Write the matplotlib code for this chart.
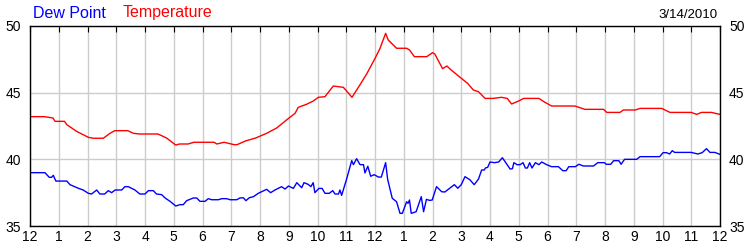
import matplotlib
matplotlib.use("Agg")
import matplotlib.pyplot as plt

# hours since midnight and readings (F)
temp_h = [0, 0.5, 0.8, 0.87, 1.2, 1.28, 1.62, 2.03, 2.2, 2.55, 2.78, 2.95, 3.4, 3.6, 3.8, 4.45,
          4.75, 5.07, 5.2, 5.5, 5.7, 6.4, 6.5, 6.75, 7.1, 7.2, 7.5, 7.85, 8.23, 8.58, 8.95, 9.22,
          9.33, 9.62, 9.85, 10.03, 10.26, 10.55, 10.9, 11.2, 11.48, 11.71, 12.0, 12.17, 12.37,
          12.46, 12.75, 13.1, 13.2, 13.37, 13.8, 14.0, 14.08, 14.35, 14.5, 14.65, 14.96, 15.22,
          15.42, 15.6, 15.83, 16.1, 16.4, 16.6, 16.75, 17.0, 17.17, 17.7, 17.87, 18.14, 18.95,
          19.3, 19.95, 20.06, 20.52, 20.64, 21.05, 21.22, 21.97, 22.26, 23.0, 23.19, 23.36,
          23.7, 24.0]
temp_v = [43.2, 43.2, 43.1, 42.85, 42.85, 42.6, 42.1, 41.65, 41.58, 41.58, 41.95, 42.15, 42.15,
          41.95, 41.9, 41.9, 41.6, 41.07, 41.15, 41.15, 41.28, 41.28, 41.15, 41.28, 41.1, 41.1,
          41.38, 41.6, 41.95, 42.35, 43.0, 43.45, 43.9, 44.13, 44.37, 44.65, 44.7, 45.5, 45.4,
          44.65, 45.6, 46.4, 47.57, 48.3, 49.45, 48.95, 48.33, 48.33, 48.2, 47.7, 47.7, 48.0,
          47.9, 46.8, 47.0, 46.7, 46.15, 45.7, 45.2, 45.07, 44.57, 44.57, 44.65, 44.57, 44.15,
          44.38, 44.57, 44.57, 44.33, 44.0, 44.0, 43.75, 43.75, 43.52, 43.52, 43.7, 43.7, 43.82,
          43.82, 43.52, 43.52, 43.37, 43.52, 43.52, 43.37]

dew_h = [0, 0.52, 0.67, 0.75, 0.81, 0.9, 1.28, 1.39, 1.68, 1.85, 2.03, 2.14, 2.32, 2.43, 2.6,
         2.72, 2.84, 2.96, 3.19, 3.3, 3.42, 3.65, 3.82, 4.0, 4.12, 4.29, 4.4, 4.58, 4.7, 4.87,
         5.07, 5.22, 5.33, 5.45, 5.68, 5.8, 5.91, 6.09, 6.2, 6.32, 6.55, 6.67, 6.84, 6.96, 7.19,
         7.3, 7.42, 7.51, 7.63, 7.77, 7.94, 8.23, 8.37, 8.52, 8.75, 8.87, 8.99, 9.16, 9.28, 9.45,
         9.53, 9.68, 9.77, 9.85, 9.91, 10.05, 10.16, 10.26, 10.41, 10.53, 10.61, 10.73, 10.78,
         10.84, 11.01, 11.19, 11.25, 11.36, 11.48, 11.6, 11.65, 11.75, 11.85, 11.97, 12.12,
         12.22, 12.37, 12.44, 12.6, 12.75, 12.87, 12.95, 13.1, 13.15, 13.2, 13.26, 13.43, 13.61,
         13.69, 13.79, 13.9, 13.99, 14.14, 14.32, 14.43, 14.76, 14.88, 15.0, 15.13, 15.3, 15.45,
         15.6, 15.71, 15.8, 15.84, 15.92, 16.0, 16.15, 16.3, 16.43, 16.54, 16.7, 16.78, 16.83,
         16.94, 17.05, 17.15, 17.23, 17.3, 17.38, 17.46, 17.58, 17.7, 17.8, 17.97, 18.14, 18.38,
         18.53, 18.65, 18.74, 18.97, 19.09, 19.25, 19.6, 19.75, 19.98, 20.04, 20.2, 20.3, 20.48,
         20.56, 20.68, 21.1, 21.22, 21.9, 22.02, 22.14, 22.25, 22.34, 22.42, 23.0, 23.23, 23.38,
         23.53, 23.65, 23.82, 23.99]
dew_v = [39.0, 39.0, 38.65, 38.65, 38.8, 38.37, 38.37, 38.1, 37.83, 37.7, 37.45, 37.4, 37.7,
         37.4, 37.4, 37.65, 37.5, 37.7, 37.7, 37.95, 37.95, 37.7, 37.4, 37.4, 37.65, 37.65, 37.4,
         37.35, 37.1, 36.85, 36.5, 36.6, 36.6, 36.9, 37.1, 37.1, 36.85, 36.85, 37.05, 36.97,
         36.97, 37.05, 37.05, 36.97, 36.97, 37.1, 37.12, 36.9, 37.12, 37.2, 37.45, 37.75, 37.5,
         37.7, 37.95, 37.77, 38.0, 37.82, 38.25, 37.87, 38.25, 38.12, 37.95, 38.25, 37.5, 37.82,
         37.82, 37.45, 37.45, 37.65, 37.4, 37.4, 37.7, 37.3, 38.5, 39.9, 39.6, 40.05, 39.6, 39.6,
         38.98, 39.48, 38.73, 38.85, 38.67, 38.67, 39.75, 38.5, 37.08, 36.82, 35.95, 35.95, 36.82,
         36.7, 36.95, 35.95, 36.07, 37.2, 36.07, 37.0, 36.92, 36.95, 37.95, 37.57, 37.55, 38.1,
         37.83, 38.1, 38.7, 38.47, 38.1, 38.52, 39.2, 39.2, 39.35, 39.4, 39.8, 39.75, 39.8, 40.12,
         39.78, 39.27, 39.3, 39.75, 39.6, 39.6, 39.75, 39.35, 39.35, 39.75, 39.35, 39.75, 39.6,
         39.8, 39.6, 39.45, 39.45, 39.15, 39.15, 39.45, 39.45, 39.63, 39.5, 39.5, 39.75, 39.75,
         39.63, 39.63, 39.9, 39.9, 39.63, 40.0, 40.0, 40.2, 40.2, 40.5, 40.5, 40.4, 40.65, 40.52,
         40.52, 40.4, 40.5, 40.8, 40.52, 40.52, 40.38]

hour_labels = ["12", "1", "2", "3", "4", "5", "6", "7", "8", "9", "10", "11",
               "12", "1", "2", "3", "4", "5", "6", "7", "8", "9", "10", "11", "12"]
y_ticks = [35, 40, 45, 50]
date_label = "3/14/2010"

plt.rcParams["font.family"] = ["Liberation Sans", "DejaVu Sans"]
fig = plt.figure(figsize=(7.5, 2.5), dpi=100)
ax = fig.add_axes([0.04, 0.096, 0.92, 0.8])

ax.plot(temp_h, temp_v, color="#ff0000", lw=1)
ax.plot(dew_h, dew_v, color="#0000ff", lw=1)

ax.set_xlim(0, 24)
ax.set_ylim(35, 50)
ax.set_xticks(range(25))
ax.set_xticklabels(hour_labels)
ax.set_yticks(y_ticks)
ax.grid(True, color="#cccccc", lw=1)
ax.set_axisbelow(True)

ax.tick_params(axis="x", top=True, bottom=False, direction="in", length=4,
               labelsize=10, pad=3, color="black")
ax.tick_params(axis="y", left=False, right=False, labelleft=True, labelright=True,
               labelsize=10, pad=3)
for s in ax.spines.values():
    s.set_color("black")
    s.set_linewidth(1)

fig.text(0.044, 0.93, "Dew Point", color="#0000ff", fontsize=11.5)
fig.text(0.164, 0.93, "Temperature", color="#ff0000", fontsize=11.5)
fig.text(0.957, 0.93, date_label, color="black", fontsize=9.5, ha="right")

fig.savefig("out.png", dpi=100)
